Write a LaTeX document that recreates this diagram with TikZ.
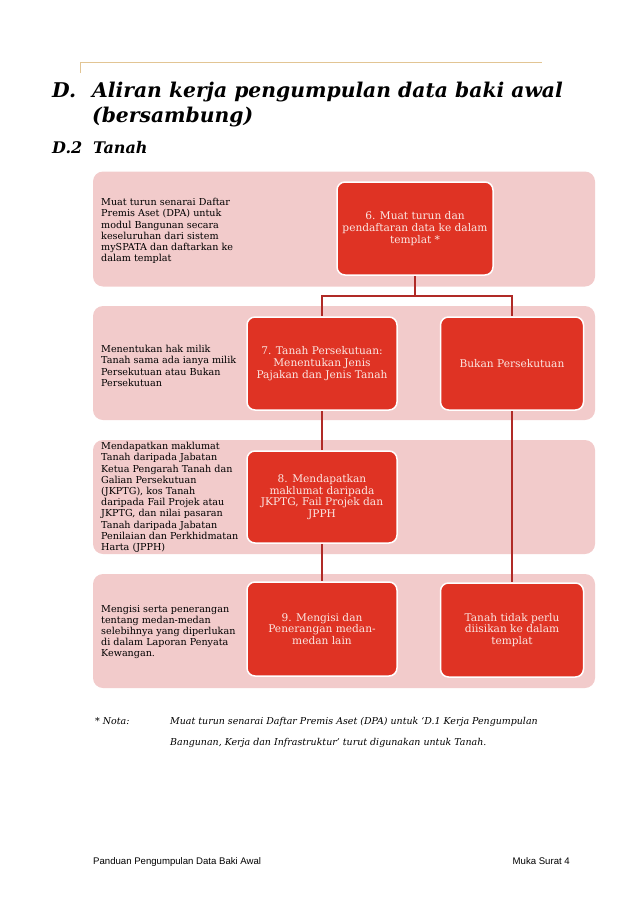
\documentclass[tikz,border=0pt]{standalone}
\usepackage{fontspec}
\setmainfont{DejaVu Serif}
\newfontfamily\footfont{Liberation Sans}
\usetikzlibrary{positioning,calc}
\pgfdeclarelayer{bands}
\pgfdeclarelayer{lines}
\pgfsetlayers{bands,lines,main}
\definecolor{bandpink}{HTML}{F2CBCB}
\definecolor{nodered}{HTML}{DF3324}
\definecolor{linered}{HTML}{B02A26}
\definecolor{headtan}{HTML}{E2C594}
\definecolor{nodetext}{HTML}{FBE6E2}
\tikzset{
  band/.style={fill=bandpink, draw=none, rounded corners=10pt, inner sep=0pt},
  stepbox/.style={fill=nodered, draw=white, line width=1.5pt, rounded corners=8pt,
    text=nodetext, align=center, inner sep=2pt, font=\fontsize{10.6}{11.8}\selectfont},
  bandtext/.style={anchor=west, align=left, inner sep=0pt, text=black,
    font=\fontsize{9.6}{11.2}\selectfont},
  conn/.style={draw=linered, line width=1.8pt},
  titlefont/.style={font=\fontsize{20.3}{24}\selectfont\bfseries\itshape},
  subfont/.style={font=\fontsize{16}{18}\selectfont\bfseries\itshape},
  notafont/.style={font=\fontsize{9.45}{20.5}\selectfont\itshape},
  footstyle/.style={font=\footfont\fontsize{9.6}{11}\selectfont},
}
\begin{document}
\begin{tikzpicture}[x=1pt,y=-1pt]
\useasboundingbox (0,0) rectangle (638,902);
% header rule
\draw[headtan, line width=0.9pt] (80,73) coordinate (ht) -- (80,62) coordinate (hl) -- (542,62) coordinate (hr);
% title
\node[anchor=base west, inner sep=0pt, titlefont] (tD) at (52,97) {D.};
\node[anchor=base west, inner sep=0pt, titlefont] (t1) at (92,97) {Aliran kerja pengumpulan data baki awal};
\node[anchor=base west, inner sep=0pt, titlefont] (t2) at (92,122) {(bersambung)};
\node[anchor=base west, inner sep=0pt, subfont] (sD) at (52,153) {D.2};
\node[anchor=base west, inner sep=0pt, subfont] (sT) at (93,153) {Tanah};
% bands
\begin{pgfonlayer}{bands}
\node[band, minimum width=502pt, minimum height=115pt] (b1) at (344,229) {};
\node[band, minimum width=502pt, minimum height=114pt] (b2) at (344,363) {};
\node[band, minimum width=502pt, minimum height=114pt] (b3) at (344,497) {};
\node[band, minimum width=502pt, minimum height=114pt] (b4) at (344,631) {};
\end{pgfonlayer}
% band texts
\node[bandtext] (bt1) at (101,231) {Muat turun senarai Daftar\\Premis Aset (DPA) untuk\\modul Bangunan secara\\keseluruhan dari sistem\\mySPATA dan daftarkan  ke\\dalam templat};
\node[bandtext] (bt2) at (101,366) {Menentukan hak milik\\Tanah sama ada  ianya milik\\Persekutuan atau Bukan\\Persekutuan};
\node[bandtext] (bt3) at (101,497.5) {Mendapatkan maklumat\\Tanah daripada Jabatan\\Ketua Pengarah Tanah dan\\Galian Persekutuan\\(JKPTG), kos Tanah\\daripada Fail Projek  atau\\JKPTG, dan nilai pasaran\\Tanah daripada Jabatan\\Penilaian dan Perkhidmatan\\Harta (JPPH)};
\node[bandtext] (bt4) at (101,632) {Mengisi serta penerangan\\tentang medan-medan\\selebihnya yang diperlukan\\di dalam Laporan  Penyata\\Kewangan.};
% step nodes
\node[stepbox, minimum width=156pt, minimum height=93pt] (n6) at (415,228.5) {6. Muat turun dan\\pendaftaran data ke dalam\\templat *};
\node[stepbox, minimum width=150pt, minimum height=93pt] (n7) at (322,363.5) {7. Tanah Persekutuan:\\Menentukan Jenis\\Pajakan dan Jenis Tanah};
\node[stepbox, minimum width=143pt, minimum height=93pt] (nb) at (512,363.5) {Bukan Persekutuan};
\node[stepbox, minimum width=150pt, minimum height=92pt] (n8) at (322,497) {8. Mendapatkan\\maklumat daripada\\JKPTG, Fail Projek dan\\JPPH};
\node[stepbox, minimum width=150pt, minimum height=94pt] (n9) at (322,629) {9. Mengisi dan\\Penerangan medan-\\medan lain};
\node[stepbox, minimum width=143pt, minimum height=94pt] (nt) at (512,630) {Tanah tidak perlu\\diisikan ke dalam\\templat};
% connectors
\begin{pgfonlayer}{lines}
\coordinate (j) at (415,296);
\draw[conn] (n6.south) -- (j) -| (n7.north);
\draw[conn] (j) -| (nb.north);
\draw[conn] (n7.south) -- (n8.north);
\draw[conn] (n8.south) -- (n9.north);
\draw[conn] (nb.south) -- (nt.north);
\end{pgfonlayer}
% nota
\node[anchor=base west, inner sep=0pt, notafont] (nl) at (95,724) {* Nota:};
\node[anchor=base west, align=left, inner sep=0pt, notafont] (nx) at (170,724) {Muat turun senarai Daftar Premis Aset (DPA) untuk `D.1 Kerja Pengumpulan};
\node[anchor=base west, align=left, inner sep=0pt, notafont] (nx2) at (170,745) {Bangunan, Kerja dan Infrastruktur' turut digunakan untuk Tanah.};
% footer
\node[anchor=base west, inner sep=0pt, footstyle] (fl) at (93,864) {Panduan Pengumpulan Data Baki Awal};
\node[anchor=base east, inner sep=0pt, footstyle] (fr) at (570,864) {Muka Surat 4};
\end{tikzpicture}
\end{document}
